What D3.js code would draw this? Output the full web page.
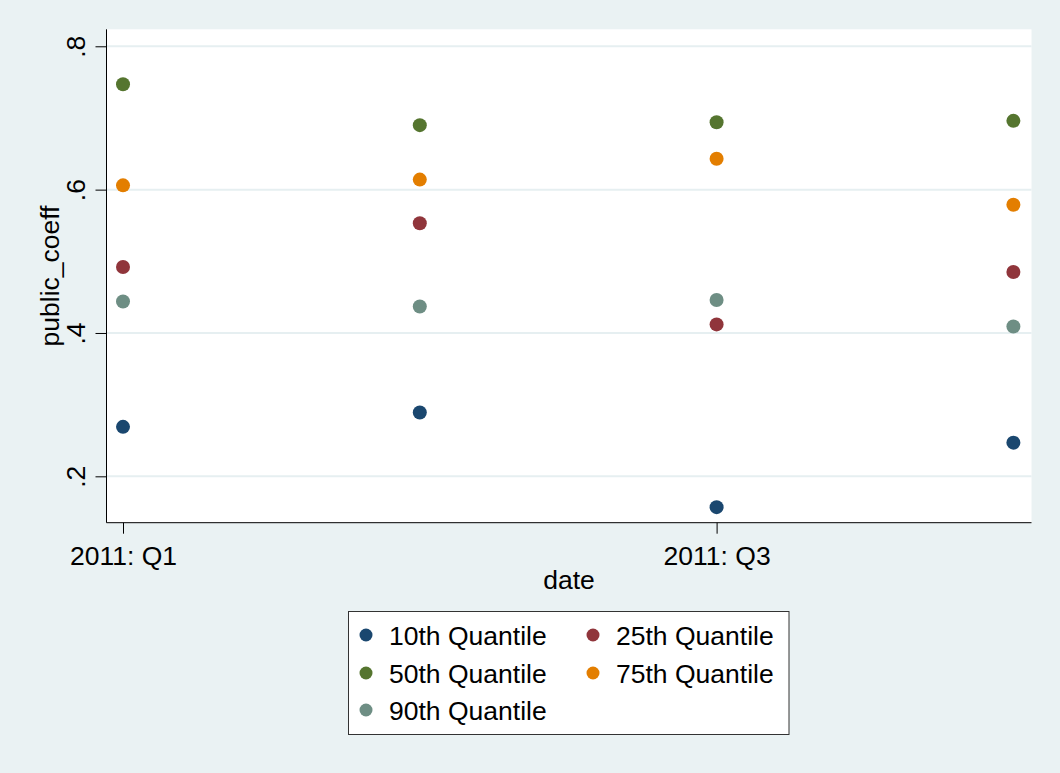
<!DOCTYPE html>
<html>
<head>
<meta charset="utf-8">
<script src="https://cdn.jsdelivr.net/npm/d3@7"></script>
<style>
  html, body { margin: 0; padding: 0; background: #eaf2f3; }
  svg { display: block; }
  text { font-family: "Liberation Sans", Arial, sans-serif; fill: #000; }
</style>
</head>
<body>
<svg id="chart" width="1060" height="773"></svg>
<script>
// Quarters on the x axis
const quarters = ["2011: Q1", "2011: Q2", "2011: Q3", "2011: Q4"];
const xTickLabels = ["2011: Q1", "2011: Q3"];
const yTicks = [0.2, 0.4, 0.6, 0.8];
const yTickLabels = [".2", ".4", ".6", ".8"];

// Coefficient of each quantile regression, one value per quarter
const seriesNames = ["10th Quantile", "25th Quantile", "50th Quantile", "75th Quantile", "90th Quantile"];
const q10 = [0.269, 0.289, 0.157, 0.247];
const q25 = [0.492, 0.553, 0.412, 0.485];
const q50 = [0.747, 0.690, 0.694, 0.696];
const q75 = [0.606, 0.614, 0.643, 0.579];
const q90 = [0.444, 0.437, 0.446, 0.409];
const seriesColors = ["#1a476f", "#90353b", "#55752f", "#e37e00", "#6e8e84"];

const series = [q10, q25, q50, q75, q90].map((vals, i) => ({
  name: seriesNames[i], color: seriesColors[i], values: vals
}));

const FONT = "26.5px";
const svg = d3.select("#chart");
const W = 1060, H = 773;
const plot = { left: 106.5, right: 1031.5, top: 29.3, bottom: 522.7 };

svg.append("rect").attr("width", W).attr("height", H).attr("fill", "#eaf2f3");

// Scales
const x = d3.scaleLinear().domain([-0.0556, 3.061]).range([plot.left, plot.right]);
const y = d3.scaleLinear().domain([0.1353, 0.8237]).range([plot.bottom, plot.top]);

// Plot region
svg.append("rect")
  .attr("x", plot.left).attr("y", plot.top)
  .attr("width", plot.right - plot.left).attr("height", plot.bottom - plot.top)
  .attr("fill", "#ffffff");

// Horizontal grid lines
svg.append("g").selectAll("line").data(yTicks).join("line")
  .attr("x1", plot.left).attr("x2", plot.right)
  .attr("y1", d => y(d)).attr("y2", d => y(d))
  .attr("stroke", "#e6eff1").attr("stroke-width", 2);

// Y axis
const yAxis = d3.axisLeft(y).tickValues(yTicks)
  .tickFormat((d, i) => yTickLabels[i]).tickSize(11).tickPadding(0);
const gy = svg.append("g").attr("transform", `translate(${plot.left},0)`).call(yAxis);
gy.select(".domain").attr("stroke", "#000").attr("d", `M0,${plot.top}V${plot.bottom}`);
gy.selectAll(".tick line").attr("stroke", "#000");
gy.selectAll(".tick text")
  .attr("x", null).attr("dy", null)
  .attr("text-anchor", "middle")
  .attr("transform", "translate(-22,0) rotate(-90)")
  .style("font-size", FONT)
  .style("font-family", "'Liberation Sans', Arial, sans-serif")
  .attr("fill", "#000");

// X axis
const xAxis = d3.axisBottom(x)
  .tickValues(xTickLabels.map(l => quarters.indexOf(l)))
  .tickFormat(d => quarters[d]).tickSize(11).tickPadding(0);
const gx = svg.append("g").attr("transform", `translate(0,${plot.bottom})`).call(xAxis);
gx.select(".domain").attr("stroke", "#000").attr("d", `M${plot.left},0H${plot.right}`);
gx.selectAll(".tick line").attr("stroke", "#000");
gx.selectAll(".tick text")
  .attr("y", 42).attr("dy", null)
  .style("font-size", FONT)
  .style("font-family", "'Liberation Sans', Arial, sans-serif")
  .attr("fill", "#000");

// Axis titles
svg.append("text")
  .attr("x", (plot.left + plot.right) / 2).attr("y", 589)
  .attr("text-anchor", "middle").style("font-size", FONT)
  .text("date");
svg.append("text")
  .attr("transform", `translate(59,${(plot.top + plot.bottom) / 2}) rotate(-90)`)
  .attr("text-anchor", "middle").style("font-size", FONT)
  .text("public_coeff");

// Points
const pts = svg.append("g");
series.forEach(s => {
  pts.append("g").selectAll("circle").data(s.values).join("circle")
    .attr("cx", (d, i) => x(i)).attr("cy", d => y(d))
    .attr("r", 7).attr("fill", s.color);
});

// Legend
const legend = svg.append("g");
legend.append("rect")
  .attr("x", 348.5).attr("y", 611.5).attr("width", 440.5).attr("height", 123)
  .attr("fill", "#fff").attr("stroke", "#333").attr("stroke-width", 1);
const colX = [366, 593], rowY = [635, 673, 710];
series.forEach((s, i) => {
  const cx = colX[i % 2], cy = rowY[Math.floor(i / 2)];
  legend.append("circle").attr("cx", cx).attr("cy", cy).attr("r", 6.5).attr("fill", s.color);
  legend.append("text").attr("x", cx + 23).attr("y", cy + 10)
    .style("font-size", FONT).text(s.name);
});
</script>
</body>
</html>
